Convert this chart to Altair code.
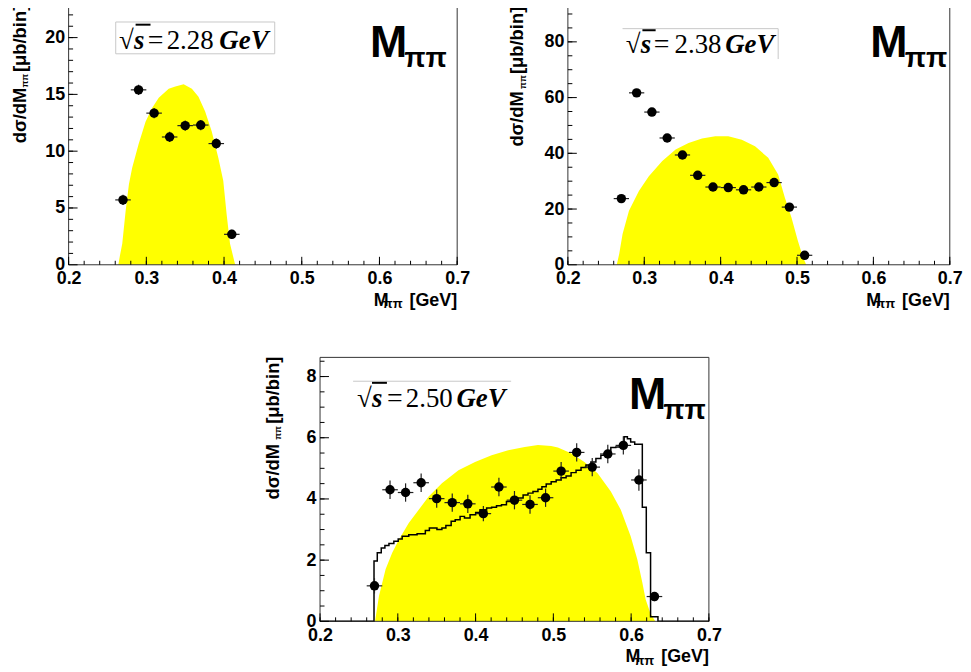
import altair as alt
import pandas as pd

# ---------------- data ----------------
# Panel 1 : sqrt(s) = 2.28 GeV
p1_mass = [0.27, 0.29, 0.31, 0.33, 0.35, 0.37, 0.39, 0.41]
p1_xsec = [5.71, 15.4, 13.35, 11.25, 12.25, 12.3, 10.67, 2.68]
p1_err = [0.45, 0.45, 0.45, 0.45, 0.45, 0.45, 0.45, 0.4]
p1_ps_mass = [0.264, 0.266, 0.269, 0.2734, 0.2776, 0.2818, 0.290, 0.299, 0.3074, 0.316,
              0.3288, 0.3373, 0.348, 0.3586, 0.3671, 0.3757, 0.3841, 0.3927, 0.399,
              0.4033, 0.4077, 0.414, 0.415]
p1_ps_val = [0.0, 0.8, 1.84, 4.75, 7.08, 8.54, 10.6, 12.6, 13.8, 14.7,
             15.5, 15.7, 15.9, 15.5, 14.8, 13.5, 11.75, 9.4, 7.4,
             4.46, 1.84, 0.1, 0.0]

# Panel 2 : sqrt(s) = 2.38 GeV
p2_mass = [0.27, 0.29, 0.31, 0.33, 0.35, 0.37, 0.39, 0.41, 0.43, 0.45, 0.47, 0.49, 0.51]
p2_xsec = [23.75, 61.7, 54.8, 45.5, 39.4, 32.1, 27.9, 27.7, 26.9, 27.9, 29.5, 20.7, 3.4]
p2_err = [1.0, 1.0, 1.0, 1.0, 1.0, 1.0, 1.0, 1.0, 1.0, 1.0, 1.0, 1.0, 1.0]
p2_ps_mass = [0.264, 0.2672, 0.2716, 0.280, 0.293, 0.306, 0.3236, 0.341, 0.358, 0.3756,
              0.393, 0.410, 0.4277, 0.445, 0.4623, 0.4753, 0.484, 0.4927, 0.501,
              0.5078, 0.512]
p2_ps_val = [0.0, 3.9, 11.0, 19.4, 26.5, 31.8, 37.2, 41.4, 43.7, 45.3,
             46.1, 46.1, 44.9, 42.5, 38.4, 32.4, 24.1, 17.0, 8.7,
             2.7, 0.0]

# Panel 3 : sqrt(s) = 2.50 GeV
p3_mass = [0.27, 0.29, 0.31, 0.33, 0.35, 0.37, 0.39, 0.41, 0.43, 0.45,
           0.47, 0.49, 0.51, 0.53, 0.55, 0.57, 0.59, 0.61, 0.63]
p3_xsec = [1.16, 4.30, 4.21, 4.53, 4.01, 3.88, 3.84, 3.52, 4.39, 3.96,
           3.82, 4.04, 4.91, 5.52, 5.04, 5.47, 5.75, 4.62, 0.81]
p3_err = [0.25, 0.3, 0.3, 0.3, 0.3, 0.3, 0.3, 0.25, 0.3, 0.3,
          0.3, 0.3, 0.3, 0.3, 0.3, 0.3, 0.3, 0.35, 0.15]
p3_ps_mass = [0.2707, 0.2758, 0.2843, 0.2928, 0.3013, 0.3141, 0.3269, 0.3397, 0.3567,
              0.378, 0.3993, 0.4206, 0.4419, 0.4632, 0.4802, 0.4972, 0.5058, 0.5228,
              0.54, 0.5569, 0.5739, 0.5867, 0.5994, 0.608, 0.6144, 0.6186, 0.625, 0.631]
p3_ps_val = [0.0, 0.83, 1.70, 2.24, 2.67, 3.21, 3.65, 4.08, 4.51,
             4.94, 5.21, 5.43, 5.59, 5.70, 5.76, 5.73, 5.68, 5.49,
             5.21, 4.84, 4.24, 3.65, 2.78, 2.02, 1.27, 0.72, 0.25, 0.0]
# model histogram (step edges and bin contents)
p3_hist_edges = [0.2, 0.2694, 0.2736, 0.2787, 0.2834, 0.2886, 0.2949, 0.3005, 0.3056, 0.3141,
                 0.3248, 0.3354, 0.3406, 0.3503, 0.3567, 0.3618, 0.3686, 0.3738, 0.3801, 0.3857,
                 0.3929, 0.4001, 0.4057, 0.4142, 0.4206, 0.4269, 0.4333, 0.4397, 0.4461, 0.4547,
                 0.4611, 0.4674, 0.4738, 0.4802, 0.4853, 0.4908, 0.4972, 0.5036, 0.5100, 0.5164,
                 0.5228, 0.5292, 0.5356, 0.5419, 0.5483, 0.5547, 0.5611, 0.5675, 0.5739, 0.5803,
                 0.5867, 0.5910, 0.5952, 0.5994, 0.6046, 0.6144, 0.6195, 0.6250, 0.6345, 0.7]
p3_hist_vals = [0.0, 1.97, 2.24, 2.40, 2.48, 2.54, 2.62, 2.69, 2.78, 2.83,
                2.86, 2.97, 3.05, 3.00, 3.05, 3.13, 3.27, 3.32, 3.43, 3.38,
                3.48, 3.56, 3.65, 3.70, 3.73, 3.78, 3.81, 3.92, 3.97, 4.03,
                4.13, 4.19, 4.24, 4.32, 4.40, 4.49, 4.56, 4.62, 4.69, 4.75,
                4.86, 4.94, 5.03, 5.11, 5.21, 5.32, 5.43, 5.54, 5.68, 5.70,
                5.81, 6.03, 5.97, 5.86, 5.79, 3.73, 2.24, 0.15, 0.0, 0.0]

# axis ticks / labels
x_major = [0.2, 0.3, 0.4, 0.5, 0.6, 0.7]
x_minor = [round(0.2 + 0.02 * i, 2) for i in range(26)]
p1_y_major = [0, 5, 10, 15, 20]
p1_y_minor = list(range(1, 24))
p2_y_major = [0, 20, 40, 60, 80]
p2_y_minor = list(range(5, 95, 5))
p3_y_major = [0, 2, 4, 6, 8]
p3_y_minor = [0.5 * i for i in range(1, 18)]

energies = ["2.28", "2.38", "2.50"]

# ---------------- helpers ----------------
FS = "Liberation Sans"
FT = "Liberation Serif"
ONE = pd.DataFrame({"k": [0]})


def txt(s, x, y, size, font=FS, weight="bold", style="normal", align="left",
        baseline="alphabetic", angle=0):
    return alt.Chart(ONE).mark_text(
        text=s, font=font, fontSize=size, fontWeight=weight, fontStyle=style,
        align=align, baseline=baseline, angle=angle, color="black"
    ).encode(x=alt.value(x), y=alt.value(y))


def make_panel(c):
    W, H = c["W"], c["H"]
    xs = alt.Scale(domain=[0.2, 0.7], nice=False, zero=False)
    ys = alt.Scale(domain=[0, c["ymax"]], nice=False, zero=False)
    xax = alt.Axis(values=x_major, format=".1f", labelFont=FS, labelFontSize=18,
                   labelFontWeight="bold", labelColor="black", ticks=False, tickSize=0,
                   domain=False, grid=False, labelPadding=5, labelFlush=False,
                   labelOverlap=False, labelBound=False)
    yax = alt.Axis(values=c["ymaj"], format="d", labelFont=FS, labelFontSize=18,
                   labelFontWeight="bold", labelColor="black", ticks=False, tickSize=0,
                   domain=False, grid=False, labelPadding=4, labelFlush=False,
                   labelOverlap=False, labelBound=False)

    def X(f):
        return alt.X(f, type="quantitative", scale=xs, axis=xax, title=None)

    def Y(f):
        return alt.Y(f, type="quantitative", scale=ys, axis=yax, title=None)

    layers = []
    ps = pd.DataFrame({"m": c["ps_m"], "v": c["ps_v"]})
    layers.append(alt.Chart(ps).mark_area(color="#ffff00", opacity=1,
                                          interpolate="linear").encode(x=X("m"), y=Y("v")))
    if c.get("hist_e") is not None:
        hd = pd.DataFrame({"m": c["hist_e"], "v": c["hist_v"]})
        layers.append(alt.Chart(hd).mark_line(color="black", strokeWidth=1.5,
                                              interpolate="step-after").encode(x=X("m"), y=Y("v")))
    pts = pd.DataFrame({"m": c["mass"], "v": c["xsec"], "e": c["err"]})
    pts["lo"] = pts["m"] - 0.01
    pts["hi"] = pts["m"] + 0.01
    pts["vlo"] = pts["v"] - pts["e"]
    pts["vhi"] = pts["v"] + pts["e"]
    layers.append(alt.Chart(pts).mark_rule(color="#222222", strokeWidth=1.2).encode(
        x=X("lo"), x2="hi", y=Y("v")))
    layers.append(alt.Chart(pts).mark_rule(color="#222222", strokeWidth=1.2).encode(
        x=X("m"), y=Y("vlo"), y2="vhi"))
    layers.append(alt.Chart(pts).mark_circle(color="black", opacity=1, size=90).encode(
        x=X("m"), y=Y("v")))

    # frame
    layers.append(alt.Chart(ONE).mark_rect(fillOpacity=0, stroke="#333333", strokeWidth=1).encode(
        x=alt.value(0), x2=alt.value(W), y=alt.value(c["ftop"]), y2=alt.value(H)))
    # inner ticks
    layers.append(alt.Chart(pd.DataFrame({"t": x_minor})).mark_rule(color="black").encode(
        x=X("t"), y=alt.value(H), y2=alt.value(H - 4)))
    layers.append(alt.Chart(pd.DataFrame({"t": x_major})).mark_rule(color="black").encode(
        x=X("t"), y=alt.value(H), y2=alt.value(H - 8)))
    layers.append(alt.Chart(pd.DataFrame({"t": c["ymin"]})).mark_rule(color="black").encode(
        y=Y("t"), x=alt.value(0), x2=alt.value(4.5)))
    layers.append(alt.Chart(pd.DataFrame({"t": c["ymaj"]})).mark_rule(color="black").encode(
        y=Y("t"), x=alt.value(0), x2=alt.value(9)))

    # sqrt(s) box
    bx = c["box"]
    if c["box_kind"] == "full":
        layers.append(alt.Chart(ONE).mark_rect(fillOpacity=0, stroke="#c8c8c8", strokeWidth=1).encode(
            x=alt.value(bx[0]), x2=alt.value(bx[1]), y=alt.value(bx[2]), y2=alt.value(bx[3])))
    else:
        layers.append(alt.Chart(ONE).mark_rule(color="#c8c8c8", strokeWidth=1).encode(
            x=alt.value(bx[0]), x2=alt.value(bx[1]), y=alt.value(bx[2])))
        if c["box_kind"] == "topright":
            layers.append(alt.Chart(ONE).mark_rule(color="#c8c8c8", strokeWidth=1).encode(
                x=alt.value(bx[1]), y=alt.value(bx[2]), y2=alt.value(bx[3])))
    ob = c["overbar"]
    layers.append(alt.Chart(ONE).mark_rule(color="black", strokeWidth=2).encode(
        x=alt.value(ob[0]), x2=alt.value(ob[1]), y=alt.value(ob[2])))
    sx = c["sq_x"]
    by = c["sq_base"]
    layers.append(txt("\u221a", sx[0], by, 27, font=FT, weight="normal"))
    layers.append(txt("s", sx[1], by, 27, font=FT, weight="bold", style="italic"))
    layers.append(txt("=", sx[2], by, 28, font=FT, weight="normal"))
    layers.append(txt(c["energy"], sx[3] - 1, by, 27, font=FT, weight="normal"))
    layers.append(txt("GeV", sx[4], by, 27, font=FT, weight="bold", style="italic"))

    # big M_pipi label
    bm = c["bigM"]
    layers.append(txt("M", bm[0], bm[1], 45))
    layers.append(txt("\u03c0\u03c0", bm[2], bm[3], 28))

    # x-axis title
    layers.append(txt("M", W - 69, H + 41, 18, align="right"))
    layers.append(txt("\u03c0\u03c0", W - 55, H + 44, 13, align="right"))
    layers.append(txt("[GeV]", W, H + 41, 18, align="right"))

    # y-axis title (rotated)
    yt = c["ytitle"]
    layers.append(txt("d\u03c3/dM", yt[0], yt[2], 18.5, align="center", baseline="middle", angle=270))
    layers.append(txt("\u03c0\u03c0", yt[1], yt[3], 9, align="center", baseline="middle", angle=270))
    layers.append(txt("[\u03bcb/bin]", yt[0], yt[4], 18.5, align="center", baseline="middle", angle=270))

    return alt.layer(*layers).properties(width=W, height=H)


cfg1 = dict(W=391, H=264.3, ymax=264.3 / 11.43, ftop=0.5,
            mass=p1_mass, xsec=p1_xsec, err=p1_err, ps_m=p1_ps_mass, ps_v=p1_ps_val,
            ymaj=p1_y_major, ymin=p1_y_minor, energy=energies[0],
            box_kind="full", box=(47.4, 207.4, 20, 52), overbar=(67.4, 82.4, 22.7),
            sq_x=(50.7, 65.7, 79.7, 99.7, 151.7), sq_base=46.7,
            bigM=(303.4, 55, 337.7, 65), ytitle=(-48.8, -44.3, 114, 79, 36.5))
cfg2 = dict(W=384.3, H=264.3, ymax=264.3 / 2.804, ftop=4.3,
            mass=p2_mass, xsec=p2_xsec, err=p2_err, ps_m=p2_ps_mass, ps_v=p2_ps_val,
            ymaj=p2_y_major, ymin=p2_y_minor, energy=energies[1],
            box_kind="topright", box=(55, 211.6, 26.7, 57.3), overbar=(75, 88.3, 28.3),
            sq_x=(58.3, 73.3, 86.3, 108.3, 158.3), sq_base=51.7,
            bigM=(304.3, 55, 339, 65), ytitle=(-50.9, -45.5, 117.5, 80.5, 38.5))
cfg3 = dict(W=391.3, H=265.6, ymax=265.6 / 30.79, ftop=0,
            mass=p3_mass, xsec=p3_xsec, err=p3_err, ps_m=p3_ps_mass, ps_v=p3_ps_val,
            hist_e=p3_hist_edges, hist_v=p3_hist_vals,
            ymaj=p3_y_major, ymin=p3_y_minor, energy=energies[2],
            box_kind="top", box=(33.3, 192.3, 24, 24), overbar=(52.3, 67.3, 25.6),
            sq_x=(37.3, 52.3, 67.3, 87.3, 137.3), sq_base=50,
            bigM=(311, 51.6, 345.3, 62.3), ytitle=(-47.4, -42.4, 115, 76, 33))

p1 = make_panel(cfg1)
p2 = make_panel(cfg2)
p3 = make_panel(cfg3)

spacer = alt.Chart(ONE).mark_point(opacity=0).encode(
    x=alt.X("k:Q", axis=None), y=alt.Y("k:Q", axis=None)
).properties(width=252.7, height=10)

row1 = alt.hconcat(p1, p2, spacing=111.4, bounds="flush")
row2 = alt.hconcat(spacer, p3, spacing=0, bounds="flush")

chart = alt.vconcat(row1, row2, spacing=44.5, bounds="full").properties(
    padding={"left": 3, "top": -8, "right": 0, "bottom": 0}
).configure_view(stroke=None)

chart.save("out.html", embed_options={"renderer": "svg", "actions": False})
